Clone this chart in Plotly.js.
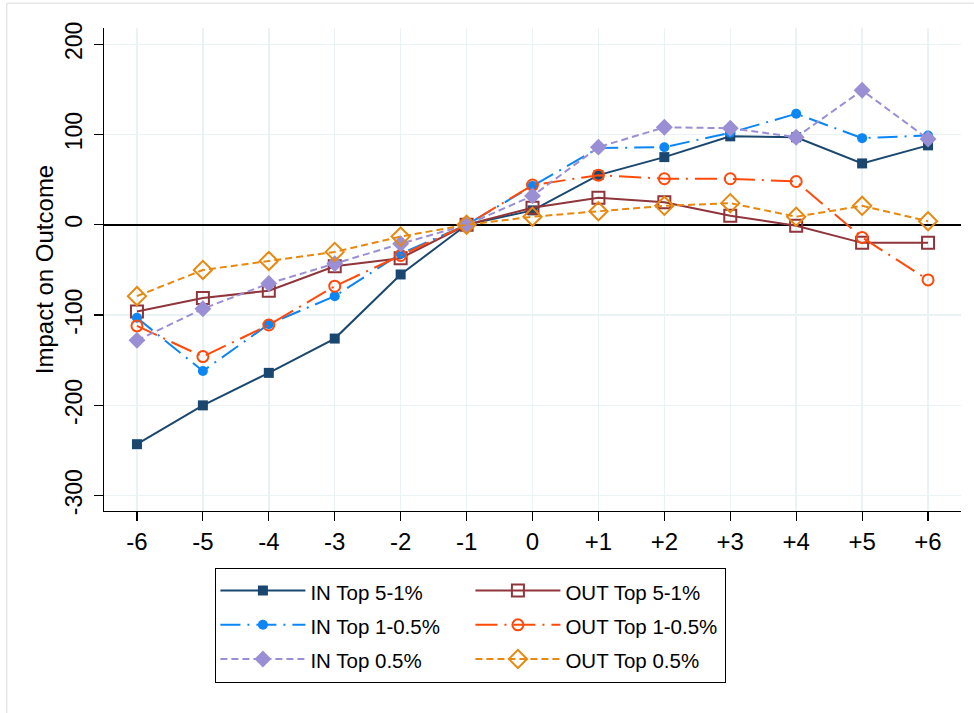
<!DOCTYPE html>
<html>
<head>
<meta charset="utf-8">
<script src="https://cdn.plot.ly/plotly-3.0.1.min.js"></script>
<style>
html,body{margin:0;padding:0;background:#fff;}
#chart{width:974px;height:713px;}
</style>
</head>
<body>
<div id="chart"></div>
<script>
const periods = [-6,-5,-4,-3,-2,-1,0,1,2,3,4,5,6];
const periodLabels = ["-6","-5","-4","-3","-2","-1","0","+1","+2","+3","+4","+5","+6"];
const yTicks = [200,100,0,-100,-200,-300];

const inTop5to1   = [-243,-200,-164,-126,-55,0,16,55,75,98,97,68,88];
const inTop1to05  = [-103,-162,-110,-79,-32,0,43,85,86,102,123,96,99];
const inTop05     = [-128,-93,-65,-43,-21,0,32,86,108,107,97,149,95];
const outTop5to1  = [-96,-81,-73,-46,-37,0,19,30,25,10,-1,-20,-20];
const outTop1to05 = [-112,-146,-111,-68,-34,0,44,55,51,51,48,-14,-61];
const outTop05    = [-79,-50,-40,-30,-13,0,9,15,21,24,9,21,4];

function tr(name, group, y, color, dash, symbol, size){
  const open = symbol.indexOf('open') >= 0;
  return {
    type:'scatter', mode:'lines+markers',
    name:'<span style="font-size:20.5px">' + name + '</span>',
    legendgroup:group,
    x:periods, y:y,
    line:{color:color, width:2, dash:dash},
    marker:{color:color, symbol:symbol, size:size,
            line:{color:color, width: open ? 2 : 0}},
    cliponaxis:false
  };
}

const data = [
  tr('IN Top 5-1%', 'in', inTop5to1, '#1a476f', 'solid', 'square', 10),
  tr('OUT Top 5-1%', 'out', outTop5to1, '#90353b', 'solid', 'square-open', 12),
  tr('IN Top 1-0.5%', 'in', inTop1to05, '#0d86f5', '20px,7px,2px,7px', 'circle', 10),
  tr('OUT Top 1-0.5%', 'out', outTop1to05, '#ff4a0a', '22px,7px,2px,7px', 'circle-open', 11),
  tr('IN Top 0.5%', 'in', inTop05, '#9a8fd4', '7px,4px', 'diamond', 13),
  tr('OUT Top 0.5%', 'out', outTop05, '#e8880e', '7px,4px', 'diamond-open', 14)
];

const fam = '"Liberation Sans", Arial, sans-serif';
const f = s => ({family:fam, size:s, color:'#000'});

const layout = {
  width:974, height:713,
  margin:{l:104, r:13, t:28, b:202},
  paper_bgcolor:'#fff', plot_bgcolor:'#fff',
  font:f(20),
  showlegend:true,
  xaxis:{
    range:[-6.5,6.5], tickvals:periods, ticktext:periodLabels,
    showgrid:true, gridcolor:'#eaf2f3', gridwidth:1.5,
    zeroline:false, showline:true, linecolor:'#000', linewidth:1.2,
    ticks:'outside', ticklen:9, tickcolor:'#000', tickwidth:1.2,
    tickfont:f(24), fixedrange:true
  },
  yaxis:{
    range:[-317,218], tickvals:yTicks, ticktext:yTicks.map(String),
    tickangle:-90,
    showgrid:true, gridcolor:'#eaf2f3', gridwidth:1.5,
    zeroline:true, zerolinecolor:'#000', zerolinewidth:1.4,
    showline:true, linecolor:'#000', linewidth:1.2,
    ticks:'outside', ticklen:9, tickcolor:'#000', tickwidth:1.2,
    tickfont:f(23), ticklabelstandoff:3,
    title:{text:'Impact on Outcome', font:f(24), standoff:0},
    fixedrange:true
  },
  legend:{
    orientation:'h', x:0.13, y:-0.117, xanchor:'left', yanchor:'top',
    bordercolor:'#000', borderwidth:1, bgcolor:'#fff',
    font:f(24), entrywidth:155, entrywidthmode:'pixels', itemwidth:85,
    traceorder:'grouped', tracegroupgap:0
  },
  shapes:[
    {type:'line', xref:'paper', yref:'paper', x0:-0.1135, x1:1.015, y0:1.0515, y1:1.0515, line:{color:'#e6e6e6', width:1.5}},
    {type:'line', xref:'paper', yref:'paper', x0:-0.1135, x1:-0.1135, y0:1.0515, y1:-0.42, line:{color:'#e6e6e6', width:1.5}}
  ]
};

Plotly.newPlot('chart', data, layout, {displayModeBar:false, staticPlot:true});
</script>
</body>
</html>
